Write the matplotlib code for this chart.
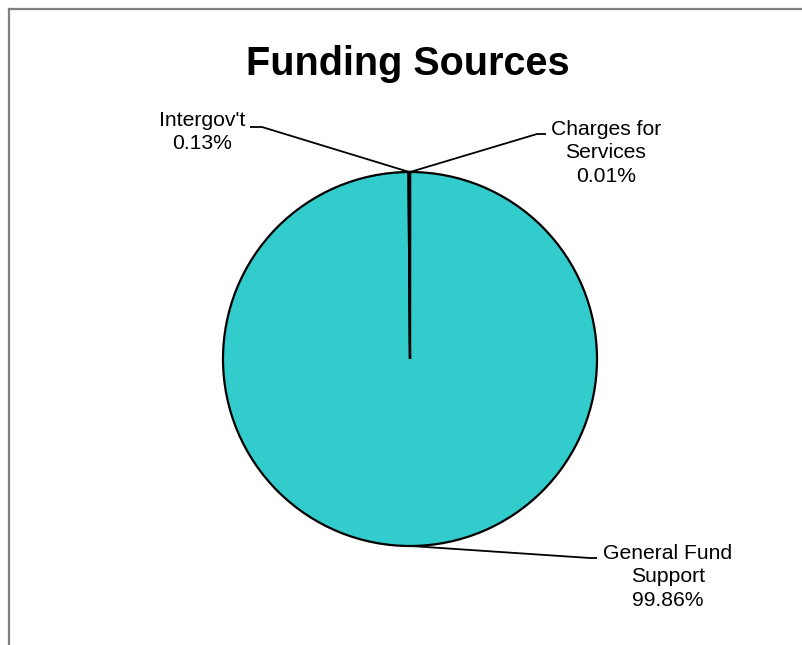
import numpy as np
import matplotlib.pyplot as plt
from matplotlib.lines import Line2D

# Funding shares (percent), listed clockwise from 12 o'clock
categories = ["Charges for\nServices", "General Fund\nSupport", "Intergov't"]
shares = [0.01, 99.86, 0.13]
share_labels = ["0.01%", "99.86%", "0.13%"]

W, H = 802, 645
fig = plt.figure(figsize=(W / 100, H / 100), dpi=100)
ax = fig.add_axes([0, 0, 1, 1])
ax.set_xlim(0, W)
ax.set_ylim(0, H)
ax.axis("off")

cx, cy, r = 410, H - 359, 187
wedges, _ = ax.pie(shares, startangle=90, counterclock=False, center=(cx, cy),
                   radius=r, colors=["#33CCCC"] * 3,
                   wedgeprops=dict(edgecolor="black", linewidth=1.6))
ax.set_xlim(0, W)
ax.set_ylim(0, H)
ax.set_aspect("equal")

# label placement: (text x, text y, elbow x, elbow y, end x) in pixel units from top-left
label_pos = {
    "Charges for\nServices": (606, 153, 537, 134, 546),
    "General Fund\nSupport": (668, 577, 590, 558, 597),
    "Intergov't": (202, 132, 262, 127, 250),
}

for w, cat, lab in zip(wedges, categories, share_labels):
    mid = np.deg2rad((w.theta1 + w.theta2) / 2)
    ax_x = cx + r * np.cos(mid)
    ax_y = cy + r * np.sin(mid)
    tx, ty, ex, ey, endx = label_pos[cat]
    ax.plot([ax_x, ex, endx], [ax_y, H - ey, H - ey], color="black", lw=1.3,
            solid_capstyle="butt")
    ax.text(tx, H - ty, f"{cat}\n{lab}", ha="center", va="center",
            fontsize=15.2, family="Liberation Sans", linespacing=1.28)

ax.text(408, H - 64, "Funding Sources", ha="center", va="center",
        fontsize=28.5, fontweight="bold", family="Liberation Sans")

# chart frame (left and top edges)
fx, fy = 8.5 / W, 1 - 8.5 / H
fig.add_artist(Line2D([fx, fx], [0, fy], color="#808080", lw=1.6,
                      transform=fig.transFigure))
fig.add_artist(Line2D([fx, 1], [fy, fy], color="#808080", lw=1.6,
                      transform=fig.transFigure))

fig.savefig("out.png", dpi=100)
